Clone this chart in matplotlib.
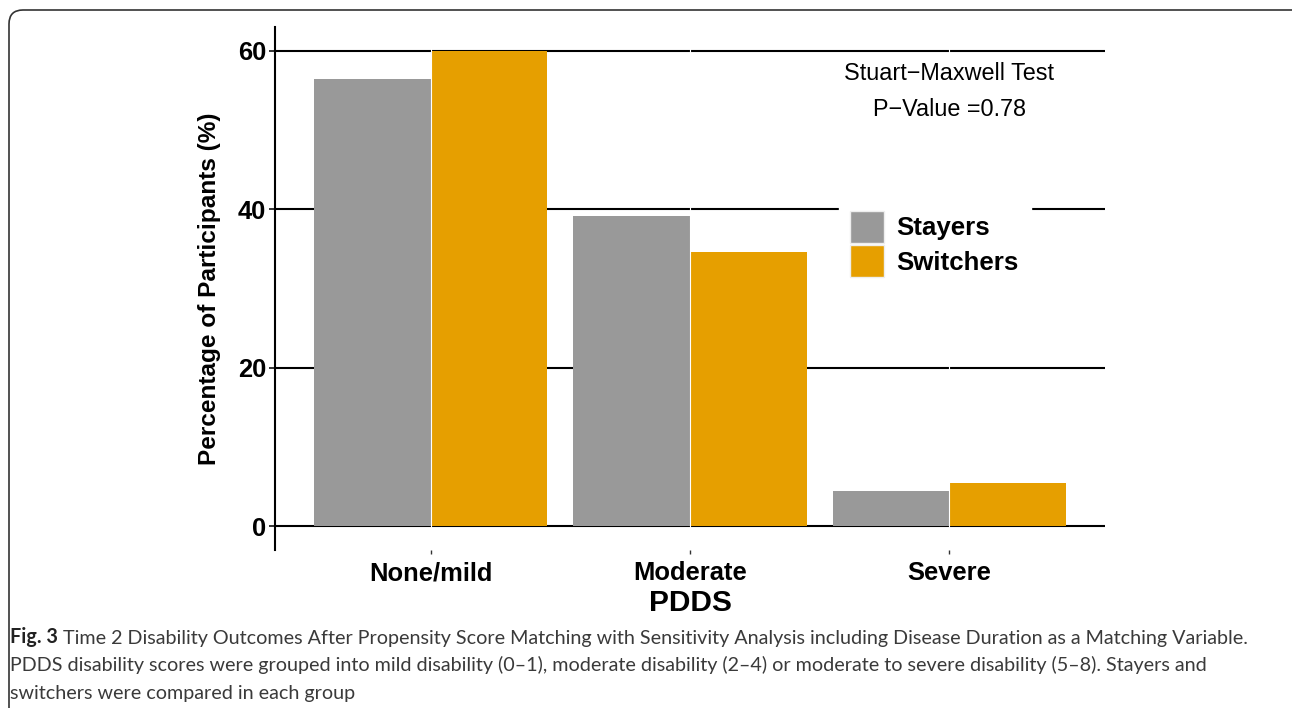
import matplotlib
matplotlib.use("Agg")
import matplotlib.pyplot as plt
import numpy as np
from matplotlib.patches import FancyBboxPatch
from matplotlib.transforms import IdentityTransform

categories = ["None/mild", "Moderate", "Severe"]
stayers = [56.4, 39.1, 4.5]
switchers = [60.0, 34.6, 5.4]
series_names = ["Stayers", "Switchers"]
colors = ["#999999", "#E69F00"]
yticks = [0, 20, 40, 60]

W, H = 1292, 708
fig = plt.figure(figsize=(W / 100, H / 100), dpi=100)
plt.rcParams['font.family'] = ['Liberation Sans', 'DejaVu Sans']

def fx(px):
    return px / W

def fy(py):
    return 1 - py / H

ax = fig.add_axes([fx(275), fy(550), fx(1105) - fx(275), fy(27) - fy(550)])

x = np.arange(1, len(categories) + 1)
bw = 0.45
ax.bar(x - bw / 2, stayers, width=bw, color=colors[0], label=series_names[0], zorder=3)
ax.bar(x + bw / 2, switchers, width=bw, color=colors[1], label=series_names[1], zorder=3)

ymax = max(max(stayers), max(switchers))
ax.set_ylim(-0.05 * ymax, 1.05 * ymax)
ax.set_xlim(0.4, len(categories) + 0.6)

for yt in yticks:
    ax.axhline(yt, color="black", lw=1.5, zorder=1)
for xv in x:
    ax.axvline(xv, color="white", lw=0.8, zorder=4)

for s in ["top", "right", "bottom"]:
    ax.spines[s].set_visible(False)
ax.spines["left"].set_linewidth(1.5)
ax.spines["left"].set_color("black")

ax.set_yticks(yticks)
ax.set_yticklabels([str(v) for v in yticks], fontsize=18.4, fontweight="bold")
ax.set_xticks(x)
ax.set_xticklabels(categories, fontsize=18.4, fontweight="bold")
ax.tick_params(axis="y", length=4.5, width=1.4, color="#333333", pad=2)
ax.tick_params(axis="x", length=3, width=1.0, color="#333333", pad=5)

ax.set_ylabel("Percentage of Participants (%)", fontsize=17.6, fontweight="bold", labelpad=12)
ax.set_xlabel("PDDS", fontsize=21.5, fontweight="bold", labelpad=3)

ax.text(3, 57.1, "Stuart\u2212Maxwell Test", ha="center", va="center", fontsize=16.8, zorder=5)
ax.text(3, 52.6, "P\u2212Value =0.78", ha="center", va="center", fontsize=16.8, zorder=5)

leg = ax.legend(loc="center", bbox_to_anchor=(fx(934.5), fy(244)), bbox_transform=fig.transFigure,
                prop={"weight": "bold", "size": 18.6}, frameon=True, fancybox=False,
                handlelength=1.3, handleheight=1.55, labelspacing=0.08,
                handletextpad=0.5, borderpad=0.45, borderaxespad=0)
leg.get_frame().set_facecolor("white")
leg.get_frame().set_edgecolor("white")
leg.get_frame().set_alpha(1)
leg.set_zorder(6)
for h in leg.legend_handles:
    h.set_edgecolor("#eeeeee")
    h.set_linewidth(1.0)

# caption box border
border = FancyBboxPatch((9, -30), 1300, H - 10 + 30, boxstyle="round,pad=0,rounding_size=14",
                        transform=IdentityTransform(), fill=False, edgecolor="#333333", lw=1.2)
fig.patches.append(border)

cap_font = ['Lato', 'DejaVu Sans']
cap_size = 14.2
t1 = fig.text(fx(10), fy(637), "Fig. 3", fontsize=cap_size, fontweight="bold", family=cap_font,
              color="#222222", va="center", ha="left")
ax.annotate(" Time 2 Disability Outcomes After Propensity Score Matching with Sensitivity Analysis including Disease Duration as a Matching Variable.",
            xy=(1, 0), xycoords=t1, ha="left", va="bottom", fontsize=cap_size, family=cap_font,
            color="#3a3a3a", annotation_clip=False)
fig.text(fx(10), fy(665), "PDDS disability scores were grouped into mild disability (0\u20131), moderate disability (2\u20134) or moderate to severe disability (5\u20138). Stayers and",
         fontsize=cap_size, family=cap_font, color="#3a3a3a", va="center", ha="left")
fig.text(fx(10), fy(693), "switchers were compared in each group",
         fontsize=cap_size, family=cap_font, color="#3a3a3a", va="center", ha="left")

fig.savefig("out.png", dpi=100)
